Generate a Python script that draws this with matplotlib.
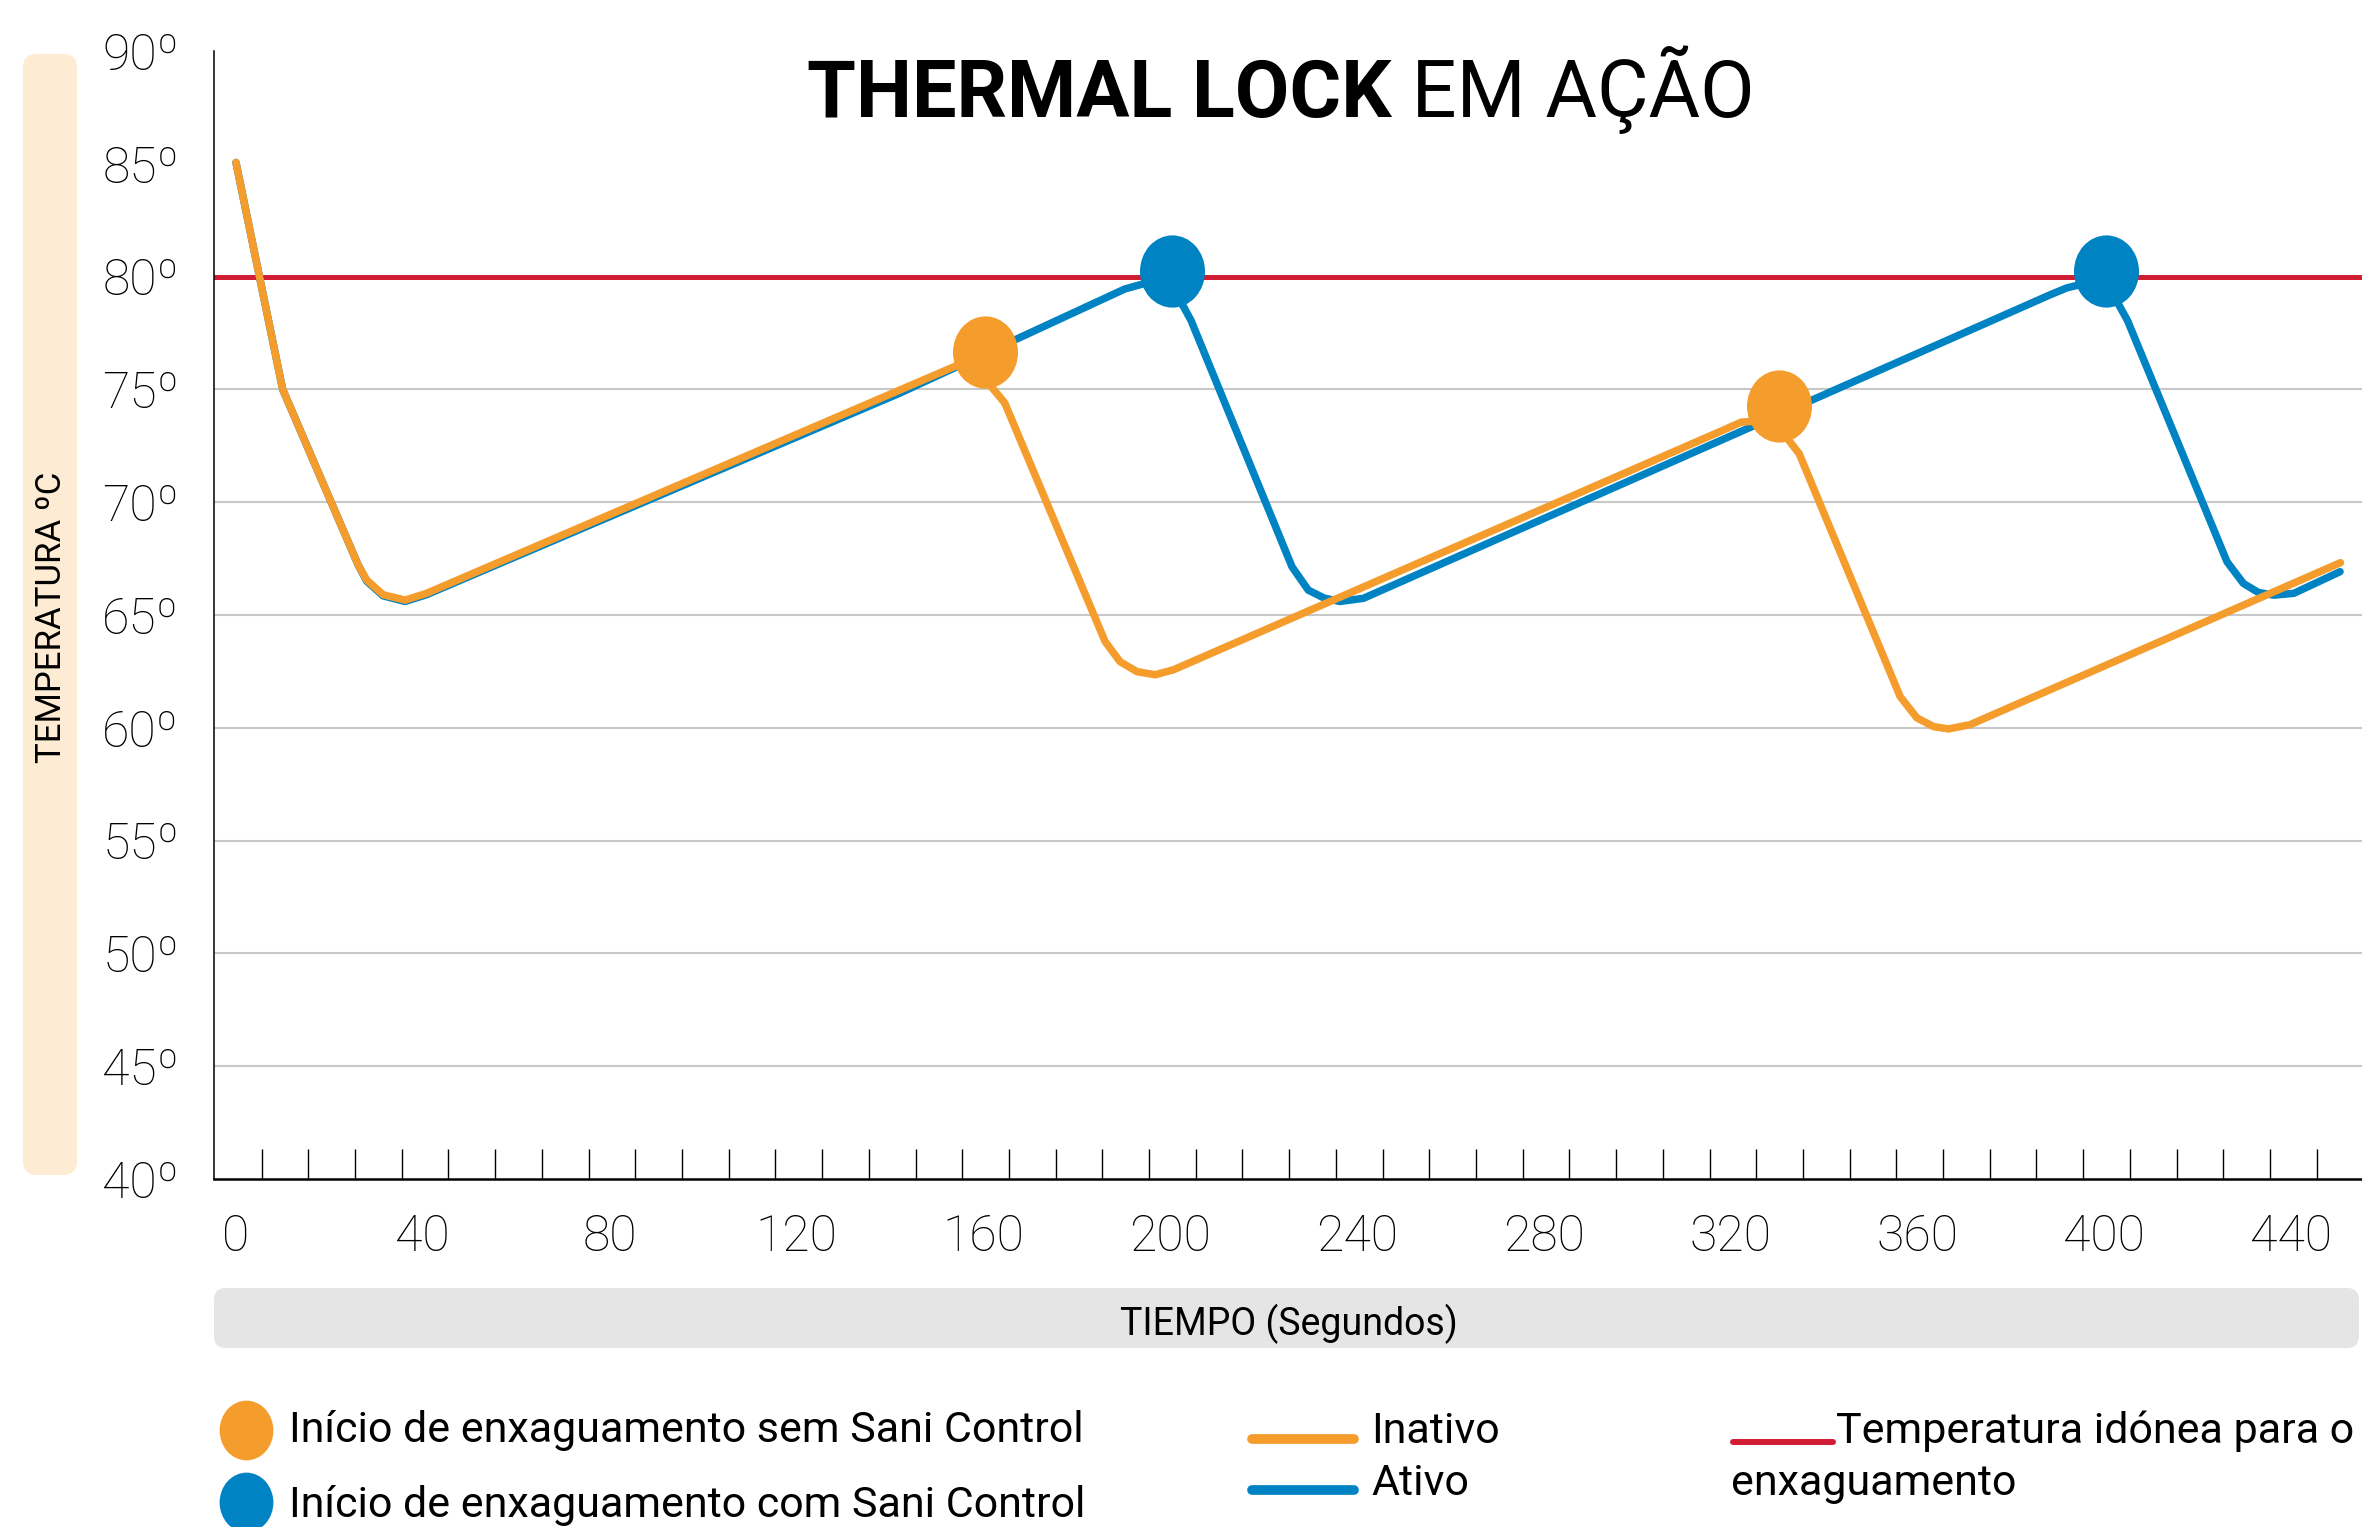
import matplotlib.pyplot as plt
import numpy as np
from matplotlib.patches import FancyBboxPatch
from matplotlib.path import Path

plt.rcParams['font.family'] = ['Roboto', 'DejaVu Sans']

# Temperatura (ºC) ao longo do tempo (s)
tiempo_inativo = [0, 10, 26.2, 28.0, 31.5, 36.2, 40.8, 153.7, 157.5, 161.8, 164.6,
                  186.1, 189.3, 192.9, 196.8, 200.7, 318.5, 322.3, 326.5, 331.5,
                  334.7, 356.3, 359.9, 363.5, 366.7, 371.3, 450.6]
temp_inativo = [85.06, 75.0, 67.2, 66.55, 65.9, 65.66, 65.96, 76.0, 76.3, 75.1, 74.4,
                63.82, 62.93, 62.49, 62.35, 62.57, 73.2, 73.55, 73.6, 73.0,
                72.15, 61.39, 60.44, 60.05, 59.95, 60.14, 67.32]

tiempo_ativo = [0, 10, 26.2, 28.0, 31.5, 36.2, 40.8, 142.2, 190.3, 194.1, 198.0,
                202.8, 204.5, 226.1, 229.6, 233.0, 236.4, 241.4, 388.5, 392.0,
                396.0, 403.0, 405.0, 426.3, 429.8, 433.0, 436.3, 440.6, 450.5]
temp_ativo = [85.06, 75.0, 67.2, 66.5, 65.85, 65.6, 65.9, 74.84, 79.45, 79.67, 79.7,
              78.7, 78.05, 67.14, 66.1, 65.75, 65.6, 65.74, 79.2, 79.5,
              79.7, 78.8, 78.05, 67.36, 66.4, 66.0, 65.88, 65.96, 66.92]

# inicio de enxaguamento
inicio_sem_x = [160.4, 330.4]
inicio_sem_y = [76.65, 74.25]
inicio_com_x = [200.4, 400.3]
inicio_com_y = [80.23, 80.23]

temp_idonea = 80
grid_temps = [45, 50, 55, 60, 65, 70, 75]
y_ticks = [40, 45, 50, 55, 60, 65, 70, 75, 80, 85, 90]
x_ticks = [0, 40, 80, 120, 160, 200, 240, 280, 320, 360, 400, 440]

ORANGE = '#F49C2C'
BLUE = '#0083C3'
RED = '#D21C34'

W, H = 2362, 1527
fig = plt.figure(figsize=(W / 100, H / 100), dpi=100)

# eixo de fundo em pixels para caixas, título e legenda
deco = fig.add_axes([0, 0, 1, 1], zorder=0)
deco.set_xlim(0, W)
deco.set_ylim(H, 0)
deco.axis('off')

ax = fig.add_axes([214 / W, (H - 1179) / H, (W - 214) / W, 1128 / H], zorder=1)
ax.set_facecolor('none')

# ellipse marker (taller than wide)
uc = Path.unit_circle()
ellipse = Path(uc.vertices * [0.9, 1.0], uc.codes)

for t in grid_temps:
    ax.axhline(t, color='#C8C8C8', lw=1.5, zorder=1)
ax.axhline(temp_idonea, color=RED, lw=3.6, zorder=2)

ax.plot(tiempo_ativo, temp_ativo, color=BLUE, lw=5.4, solid_joinstyle='round',
        solid_capstyle='round', zorder=3)
ax.plot(tiempo_inativo, temp_inativo, color=ORANGE, lw=5.4, solid_joinstyle='round',
        solid_capstyle='round', zorder=4)
ax.plot(inicio_sem_x, inicio_sem_y, ls='none', marker=ellipse, ms=52,
        color=ORANGE, mec='none', zorder=5)
ax.plot(inicio_com_x, inicio_com_y, ls='none', marker=ellipse, ms=52,
        color=BLUE, mec='none', zorder=5)

ax.set_xlim(-4.7, 455.2)
ax.set_ylim(40, 90)
for s in ['top', 'right']:
    ax.spines[s].set_visible(False)
ax.spines['left'].set_linewidth(1.1)
ax.spines['bottom'].set_linewidth(1.8)

ax.set_yticks(y_ticks)
ax.set_yticklabels([f'{v}º' for v in y_ticks])
ax.set_xticks(x_ticks)
ax.set_xticklabels([str(v) for v in x_ticks])
ax.set_xticks(np.arange(5.5, 450, 10), minor=True)
ax.tick_params(axis='both', which='major', length=0, labelsize=36, pad=25)
ax.tick_params(axis='x', which='minor', direction='in', length=21.6, width=1.0)
for lab in ax.get_xticklabels() + ax.get_yticklabels():
    lab.set_fontweight('light')

# caixa do eixo Y
deco.add_patch(FancyBboxPatch((23 + 14, 54 + 14), 54 - 28, 1121 - 28,
                              boxstyle='round,pad=14,rounding_size=14',
                              fc='#FDEBD4', ec='none'))
deco.text(52, 617, 'TEMPERATURA ºC', rotation=90, ha='center', va='center', fontsize=25)

# barra do eixo X
deco.add_patch(FancyBboxPatch((214 + 12, 1288 + 12), 2145 - 24, 60 - 24,
                              boxstyle='round,pad=12,rounding_size=12',
                              fc='#E5E5E5', ec='none'))
deco.text(1289, 1324, 'TIEMPO (Segundos)', ha='center', va='center', fontsize=27)

# título
t1 = deco.text(0, 117, 'THERMAL LOCK', fontsize=57, fontweight='bold', va='baseline')
t2 = deco.text(0, 117, ' EM AÇÃO', fontsize=57, va='baseline')
fig.canvas.draw()
r = fig.canvas.get_renderer()
w1 = t1.get_window_extent(r).width
w2 = t2.get_window_extent(r).width
x0 = 1281 - (w1 + w2) / 2
t1.set_x(x0)
t2.set_x(x0 + w1)

# legenda
deco.plot([246], [1430], marker=ellipse, ms=43, color=ORANGE, mec='none')
deco.plot([246], [1502], marker=ellipse, ms=43, color=BLUE, mec='none')
deco.text(289, 1442, 'Início de enxaguamento sem Sani Control', fontsize=31, va='baseline')
deco.text(289, 1517, 'Início de enxaguamento com Sani Control', fontsize=31, va='baseline')

deco.plot([1252, 1354], [1439, 1439], color=ORANGE, lw=7, solid_capstyle='round')
deco.plot([1252, 1354], [1490, 1490], color=BLUE, lw=7, solid_capstyle='round')
deco.text(1371, 1443, 'Inativo', fontsize=31, va='baseline')
deco.text(1371, 1495, 'Ativo', fontsize=31, va='baseline')

deco.plot([1733, 1833], [1442, 1442], color=RED, lw=4.3, solid_capstyle='round')
deco.text(1836, 1443, 'Temperatura idónea para o', fontsize=31, va='baseline')
deco.text(1731, 1495, 'enxaguamento', fontsize=31, va='baseline')

fig.savefig('out.png', dpi=100)
